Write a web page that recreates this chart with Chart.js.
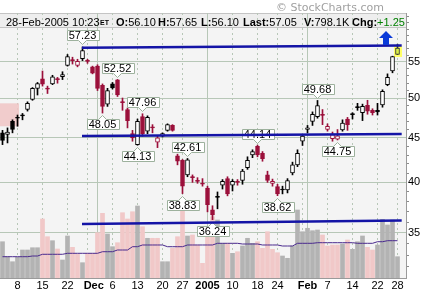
<!DOCTYPE html>
<html>
<head>
<meta charset="utf-8">
<script src="https://cdn.jsdelivr.net/npm/chart.js"></script>
<style>
  html, body { margin: 0; padding: 0; background: #fff; }
  #wrap { position: relative; width: 433px; height: 293px; overflow: hidden; }
  #chart { position: absolute; left: 0; top: 0; }
  .txt { position: absolute; white-space: nowrap; line-height: 11px; font-size: 11px; font-family: "Liberation Sans", Arial, sans-serif; color: #000; }
  .txt b { font-weight: bold; }
  .et { font-size: 7px; font-weight: bold; }
  .up { color: #008000; }
  #copy { left: 276px; top: 2px; font-family: "DejaVu Sans", Verdana, sans-serif; color: #a0a0a0; }
</style>
</head>
<body>
<div id="wrap">
  <canvas id="chart" width="433" height="293"></canvas>
  <div class="txt" id="copy">© StockCharts.com</div>
  <div class="txt" style="left:6px;top:17px">28-Feb-2005 10:23</div>
  <div class="txt et" style="left:100px;top:19px;line-height:7px">ET</div>
  <div class="txt" style="left:116px;top:17px"><b>O:</b>56.10</div>
  <div class="txt" style="left:158px;top:17px"><b>H:</b>57.65</div>
  <div class="txt" style="left:201px;top:17px"><b>L:</b>56.10</div>
  <div class="txt" style="left:243px;top:17px"><b>Last:</b>57.05</div>
  <div class="txt" style="left:304px;top:17px"><b>V:</b>798.1K</div>
  <div class="txt" style="left:352px;top:17px"><b>Chg:</b><span class="up">+1.25</span></div>
</div>
<script>
// daily candles, 3-Nov-2004 .. 28-Feb-2005 (index = trading day)
const opens = [45.6, 45.4, 47.0, 47.4, 47.7, 48.5, 49.8, 51.3, 52.6, 51.3,
    51.9, 52.55, 52.9, 54.5, 55.3, 54.5, 55.5, 55.2, 54.3, 54.4,
    51.7, 49.2, 51.9, 52.45, 49.5, 48.5, 45.5, 44.2, 47.6, 45.8,
    46.3, 44.5, 45.2, 45.9, 46.5, 42.9, 42.4, 40.8, 40.6, 40.2,
    39.9, 39.4, 37.2, 38.45, 39.7, 40.4, 39.7, 40.1, 40.2, 41.6,
    43.0, 44.0, 43.2, 40.8, 39.9, 39.55, 39.2, 39.2, 41.0, 41.9,
    44.6, 46.0, 47.0, 47.6, 47.85, 46.0, 44.9, 44.85, 45.95, 47.3,
    47.85, 48.75, 48.1, 49.05, 48.4, 48.4, 49.1, 51.8, 53.7, 56.10];
const highs = [45.9, 46.2, 47.2, 47.8, 48.0, 49.5, 51.4, 52.1, 53.7, 51.6,
    53.1, 52.8, 53.6, 56.1, 55.7, 55.4, 57.23, 55.4, 54.4, 54.6,
    51.9, 51.3, 52.1, 52.52, 50.0, 48.7, 45.9, 47.3, 47.96, 47.7,
    46.6, 45.3, 45.6, 46.7, 46.6, 43.1, 42.5, 42.61, 40.8, 40.5,
    40.4, 39.6, 37.6, 39.0, 40.3, 40.6, 40.3, 40.3, 41.4, 42.8,
    43.6, 44.14, 43.4, 41.2, 40.35, 39.8, 39.6, 40.4, 42.2, 43.6,
    45.4, 46.5, 48.2, 49.68, 48.5, 46.7, 45.7, 46.0, 47.2, 47.5,
    48.1, 49.3, 49.2, 49.7, 48.6, 49.3, 51.1, 53.3, 55.85, 57.65];
const lows = [44.2, 44.4, 45.6, 46.4, 47.2, 48.3, 49.7, 50.4, 51.6, 50.6,
    51.8, 52.0, 52.5, 54.4, 54.7, 54.3, 55.2, 54.8, 53.3, 51.0,
    48.05, 48.9, 51.2, 50.2, 48.4, 46.2, 44.6, 44.13, 45.2, 45.5,
    45.6, 43.85, 45.1, 45.8, 45.8, 41.9, 38.83, 40.6, 40.0, 39.9,
    39.6, 37.0, 36.24, 37.3, 39.3, 38.6, 39.1, 39.7, 39.8, 41.4,
    42.7, 42.8, 42.3, 40.0, 39.6, 38.62, 38.8, 38.9, 40.8, 41.7,
    44.1, 45.6, 46.5, 47.4, 46.6, 45.8, 44.6, 44.75, 45.8, 45.9,
    47.3, 48.4, 47.1, 47.9, 47.8, 47.8, 48.8, 51.65, 53.45, 56.10];
const closes = [44.7, 45.7, 46.0, 47.5, 47.8, 49.3, 51.3, 51.95, 51.85, 51.2,
    52.9, 52.5, 53.2, 55.8, 55.2, 55.1, 56.7, 55.1, 53.4, 51.3,
    48.9, 51.0, 51.35, 50.4, 49.4, 47.1, 45.0, 47.0, 45.5, 47.5,
    46.2, 45.0, 45.5, 46.6, 45.9, 42.3, 39.6, 42.45, 40.5, 40.1,
    39.8, 37.7, 36.7, 38.5, 40.1, 38.8, 40.1, 40.0, 41.2, 42.4,
    43.4, 43.0, 42.6, 40.2, 40.1, 38.8, 39.3, 40.2, 41.9, 43.2,
    45.2, 46.2, 47.9, 49.0, 47.75, 46.4, 45.4, 45.25, 46.8, 46.6,
    47.95, 48.85, 48.9, 48.3, 48.1, 48.2, 50.9, 52.8, 55.8, 57.05];
// volume in thousands of shares
const volumes = [1361, 799, 611, 776, 1050, 1050, 1136, 1136, 2213, 1549,
    1399, 1088, 675, 1575, 1151, 900, 574, 926, 926, 1699,
    2426, 1650, 1174, 1324, 2449, 2213, 2486, 2700, 1924, 1489,
    1489, 1489, 611, 611, 1114, 1549, 2550, 1575, 1613, 1238,
    551, 1800, 2299, 2175, 1301, 1301, 926, 986, 1200, 1489,
    1301, 1361, 1114, 1736, 1076, 949, 825, 739, 1200, 2550,
    1736, 1864, 1774, 1800, 1613, 1200, 1238, 1238, 1275, 1425,
    1076, 1361, 1575, 1151, 1050, 1238, 2201, 1988, 2175, 799];
const volAvg = [799, 799, 799, 799, 799, 799, 825, 825, 889, 889,
    889, 889, 889, 926, 926, 926, 926, 926, 926, 926,
    986, 986, 986, 1050, 1050, 1050, 1174, 1174, 1238, 1238,
    1238, 1238, 1238, 1174, 1174, 1174, 1174, 1238, 1238, 1238,
    1238, 1238, 1238, 1301, 1301, 1301, 1301, 1301, 1275, 1275,
    1275, 1275, 1238, 1238, 1238, 1238, 1200, 1200, 1200, 1301,
    1301, 1301, 1301, 1324, 1324, 1324, 1324, 1324, 1324, 1324,
    1324, 1301, 1301, 1301, 1301, 1361, 1361, 1399, 1399, 1399];

// x axis labels (trading-day index) and grid lines
const tickPos = [3, 8, 13, 18.25, 22, 27, 32, 36, 41, 46, 51, 55, 61, 65, 70, 75, 79];
const tickText = ['8', '15', '22', 'Dec', '6', '13', '20', '27', '2005', '10', '18', '24', 'Feb', '7', '14', '22', '28'];
const tickBold = [false, false, false, true, false, false, false, false, true, false, false, false, true, false, false, false, false];
const weekLines = [3, 8, 13, 17, 22, 27, 32, 36, 46, 51, 55, 60, 65, 70, 75, 79];
const monthLines = [19, 41, 61];
const yTickVals = [32, 33, 34, 35, 36, 37, 38, 39, 40, 41, 42, 43, 44, 45, 46, 47, 48, 49, 50,
    51, 52, 53, 54, 55, 56, 57, 58, 59, 60, 61, 62];
const yLabelVals = [35, 40, 45, 50, 55];

// price callouts
const noteIdx = [16, 23, 20, 28, 27, 37, 36, 42, 51, 55, 63, 67];
const noteVal = [57.23, 52.52, 48.05, 47.96, 44.13, 42.61, 38.83, 36.24, 44.14, 38.62, 49.68, 44.75];
const noteAbove = [true, true, false, true, false, true, false, false, true, false, true, false];

// drawn trendlines (start idx, start price, end idx, end price)
const trendX0 = [15.9, 15.9, 15.9];
const trendY0 = [57.12, 45.23, 35.83];
const trendX1 = [79.84, 79.84, 79.84];
const trendY1 = [57.45, 45.47, 36.16];

const RED = '#9b0f3a';
const GRID = '#b7c7b7';
const last = closes.length - 1;

function isRed(i) { return i > 0 && closes[i] < closes[i - 1]; }
function lineColor(i) { return i === last ? '#333' : (isRed(i) ? RED : '#000'); }
function bodyFill(i) {
    if (i === last) return '#d9ef4a';
    if (Math.abs(closes[i] - opens[i]) < 0.15) return lineColor(i);
    return closes[i] >= opens[i] ? '#fff' : lineColor(i);
}

const idx = closes.map((c, i) => i);

const chartPlugin = {
    id: 'sc',
    beforeDraw(chart) {
        const { ctx, chartArea: a } = chart;
        ctx.save();
        ctx.fillStyle = '#fff';
        ctx.fillRect(0, 0, chart.width, chart.height);
        ctx.fillStyle = '#f4f4f4';
        ctx.fillRect(a.left, a.top, a.right - a.left, a.bottom - a.top);
        // header bar
        ctx.fillStyle = '#eeeeee';
        ctx.fillRect(a.left, a.top, a.right - a.left, 14);
        ctx.strokeStyle = '#c4c4c4';
        ctx.lineWidth = 1;
        ctx.beginPath();
        ctx.moveTo(a.left, a.top + 0.5); ctx.lineTo(a.right, a.top + 0.5);
        ctx.moveTo(a.left, a.top + 14.5); ctx.lineTo(a.right, a.top + 14.5);
        ctx.stroke();
        ctx.restore();
    },
    beforeDatasetsDraw(chart) {
        const { ctx, chartArea: a, scales } = chart;
        ctx.save();
        ctx.strokeStyle = GRID;
        ctx.lineWidth = 1;
        ctx.setLineDash([2, 3]);
        weekLines.forEach(i => {
            const x = Math.floor(scales.x.getPixelForValue(i)) + 0.5;
            ctx.beginPath(); ctx.moveTo(x, a.top); ctx.lineTo(x, a.bottom); ctx.stroke();
        });
        ctx.setLineDash([]);
        monthLines.forEach(i => {
            const x = Math.floor(scales.x.getPixelForValue(i)) + 0.5;
            ctx.beginPath(); ctx.moveTo(x, a.top); ctx.lineTo(x, a.bottom); ctx.stroke();
        });
        // pink box at the left edge
        const y0 = scales.y.getPixelForValue(49.3), y1 = scales.y.getPixelForValue(46.4);
        ctx.fillStyle = 'rgba(240, 196, 196, 0.85)';
        ctx.fillRect(a.left, y0, scales.x.getPixelForValue(3.3) - a.left, y1 - y0);
        ctx.restore();
    },
    beforeDatasetDraw(chart, args) {
        if (args.index !== 2) return;
        const { ctx, scales } = chart;
        const x = scales.x.getPixelForValue(last);
        const yt = scales.y.getPixelForValue(closes[last]);
        const yb = scales.y.getPixelForValue(opens[last]);
        ctx.save();
        ctx.fillStyle = '#ffff66';
        ctx.fillRect(Math.floor(x) - 3, Math.floor(yt) - 2, 8, Math.ceil(yb - yt) + 4);
        ctx.restore();
    },
    afterDatasetDraw(chart, args) {
        if (args.index !== 3) return;
        const { ctx, scales } = chart;
        ctx.save();
        ctx.font = '11px "Liberation Sans", Arial, sans-serif';
        noteIdx.forEach((i, k) => {
            const x = Math.floor(scales.x.getPixelForValue(i)) + 0.5;
            const y = scales.y.getPixelForValue(noteVal[k]);
            const text = noteVal[k].toFixed(2);
            const w = Math.round(ctx.measureText(text).width) + 4;
            const h = 10;
            const left = Math.round(x - w / 2) + 0.5;
            const top = noteAbove[k] ? Math.round(y - 6.5 - h) + 0.5 : Math.round(y + 6) + 0.5;
            ctx.beginPath();
            if (noteAbove[k]) {
                ctx.moveTo(left, top); ctx.lineTo(left + w, top); ctx.lineTo(left + w, top + h);
                ctx.lineTo(x + 4, top + h); ctx.lineTo(x, top + h + 4); ctx.lineTo(x - 4, top + h);
                ctx.lineTo(left, top + h);
            } else {
                ctx.moveTo(left, top); ctx.lineTo(x - 4, top); ctx.lineTo(x, top - 4); ctx.lineTo(x + 4, top);
                ctx.lineTo(left + w, top); ctx.lineTo(left + w, top + h); ctx.lineTo(left, top + h);
            }
            ctx.closePath();
            ctx.fillStyle = '#fff';
            ctx.fill();
            ctx.strokeStyle = '#9db19d';
            ctx.lineWidth = 1;
            ctx.stroke();
            ctx.fillStyle = '#000';
            ctx.textAlign = 'center';
            ctx.textBaseline = 'middle';
            ctx.fillText(text, x, top + h / 2 + 0.5);
        });
        ctx.restore();
    },
    afterDatasetsDraw(chart) {
        // breakout arrow
        const { ctx } = chart;
        ctx.save();
        ctx.fillStyle = '#0a3ad8';
        ctx.beginPath();
        ctx.moveTo(379, 38); ctx.lineTo(386, 31); ctx.lineTo(393, 38);
        ctx.lineTo(389, 38); ctx.lineTo(389, 45); ctx.lineTo(383, 45); ctx.lineTo(383, 38);
        ctx.closePath();
        ctx.fill();
        ctx.restore();
    }
};

const trendSets = trendX0.map((x0, k) => ({
    type: 'line',
    data: [{ x: x0, y: trendY0[k] }, { x: trendX1[k], y: trendY1[k] }],
    yAxisID: 'y',
    borderColor: '#1414a6',
    borderWidth: 2.5,
    pointRadius: 0,
    order: 1
}));

new Chart(document.getElementById('chart').getContext('2d'), {
    type: 'bar',
    data: {
        datasets: [
            {
                type: 'bar',
                data: idx.map(i => ({ x: i, y: volumes[i] })),
                yAxisID: 'yv',
                backgroundColor: idx.map(i => isRed(i) ? '#f1c8c8' : '#b3b3b3'),
                barThickness: 4,
                grouped: false,
                order: 5
            },
            {
                type: 'line',
                data: idx.map(i => ({ x: i, y: volAvg[i] })),
                yAxisID: 'yv',
                borderColor: '#4a2a8e',
                borderWidth: 1,
                pointRadius: 0,
                order: 4
            },
            {
                type: 'bar',
                data: idx.map(i => ({ x: i, y: [lows[i], highs[i]] })),
                yAxisID: 'y',
                backgroundColor: idx.map(i => lineColor(i)),
                barThickness: 1,
                grouped: false,
                order: 3
            },
            {
                type: 'bar',
                data: idx.map(i => ({ x: i, y: [Math.min(opens[i], closes[i]), Math.max(opens[i], closes[i])] })),
                yAxisID: 'y',
                backgroundColor: idx.map(i => bodyFill(i)),
                borderColor: idx.map(i => lineColor(i)),
                borderWidth: 1,
                borderSkipped: false,
                barThickness: 4,
                minBarLength: 1,
                grouped: false,
                order: 2
            },
            ...trendSets
        ]
    },
    options: {
        responsive: false,
        animation: false,
        devicePixelRatio: 1,
        events: [],
        layout: { autoPadding: false, padding: { top: 13, left: 0, right: 0, bottom: 0 } },
        plugins: { legend: { display: false }, tooltip: { enabled: false } },
        scales: {
            x: {
                type: 'linear',
                offset: false,
                min: -0.5,
                max: 80.7,
                grid: { display: false, drawTicks: false, offset: false },
                border: { display: true, color: '#9a9a9a' },
                afterBuildTicks: s => { s.ticks = tickPos.map(v => ({ value: v })); },
                afterFit: s => { s.height = 15; s.paddingLeft = 0; s.paddingRight = 0; },
                ticks: {
                    autoSkip: false,
                    maxRotation: 0,
                    padding: 1,
                    color: '#000',
                    font: ctx => ({ family: '"Liberation Sans", Arial, sans-serif', size: 11, weight: tickBold[ctx.index] ? 'bold' : 'normal' }),
                    callback: (v, i) => tickText[i]
                }
            },
            y: {
                type: 'logarithmic',
                position: 'right',
                min: 31.06,
                max: 62.61,
                afterBuildTicks: s => { s.ticks = yTickVals.map(v => ({ value: v })); },
                afterFit: s => { s.width = 27; s.paddingTop = 0; s.paddingBottom = 0; },
                grid: {
                    color: ctx => yLabelVals.includes(ctx.tick && ctx.tick.value) ? GRID : 'rgba(0,0,0,0)',
                    tickColor: ctx => yLabelVals.includes(ctx.tick && ctx.tick.value) ? 'rgba(0,0,0,0)' : '#8c8c8c',
                    tickLength: 3,
                    drawTicks: true
                },
                border: { color: '#9a9a9a' },
                ticks: {
                    autoSkip: false,
                    padding: -1,
                    color: '#000',
                    font: { family: '"Liberation Sans", Arial, sans-serif', size: 11 },
                    callback: v => yLabelVals.includes(v) ? String(v) : ''
                }
            },
            yv: {
                type: 'linear',
                display: false,
                min: 0,
                max: 9937.5
            }
        }
    },
    plugins: [chartPlugin]
});
</script>
</body>
</html>
